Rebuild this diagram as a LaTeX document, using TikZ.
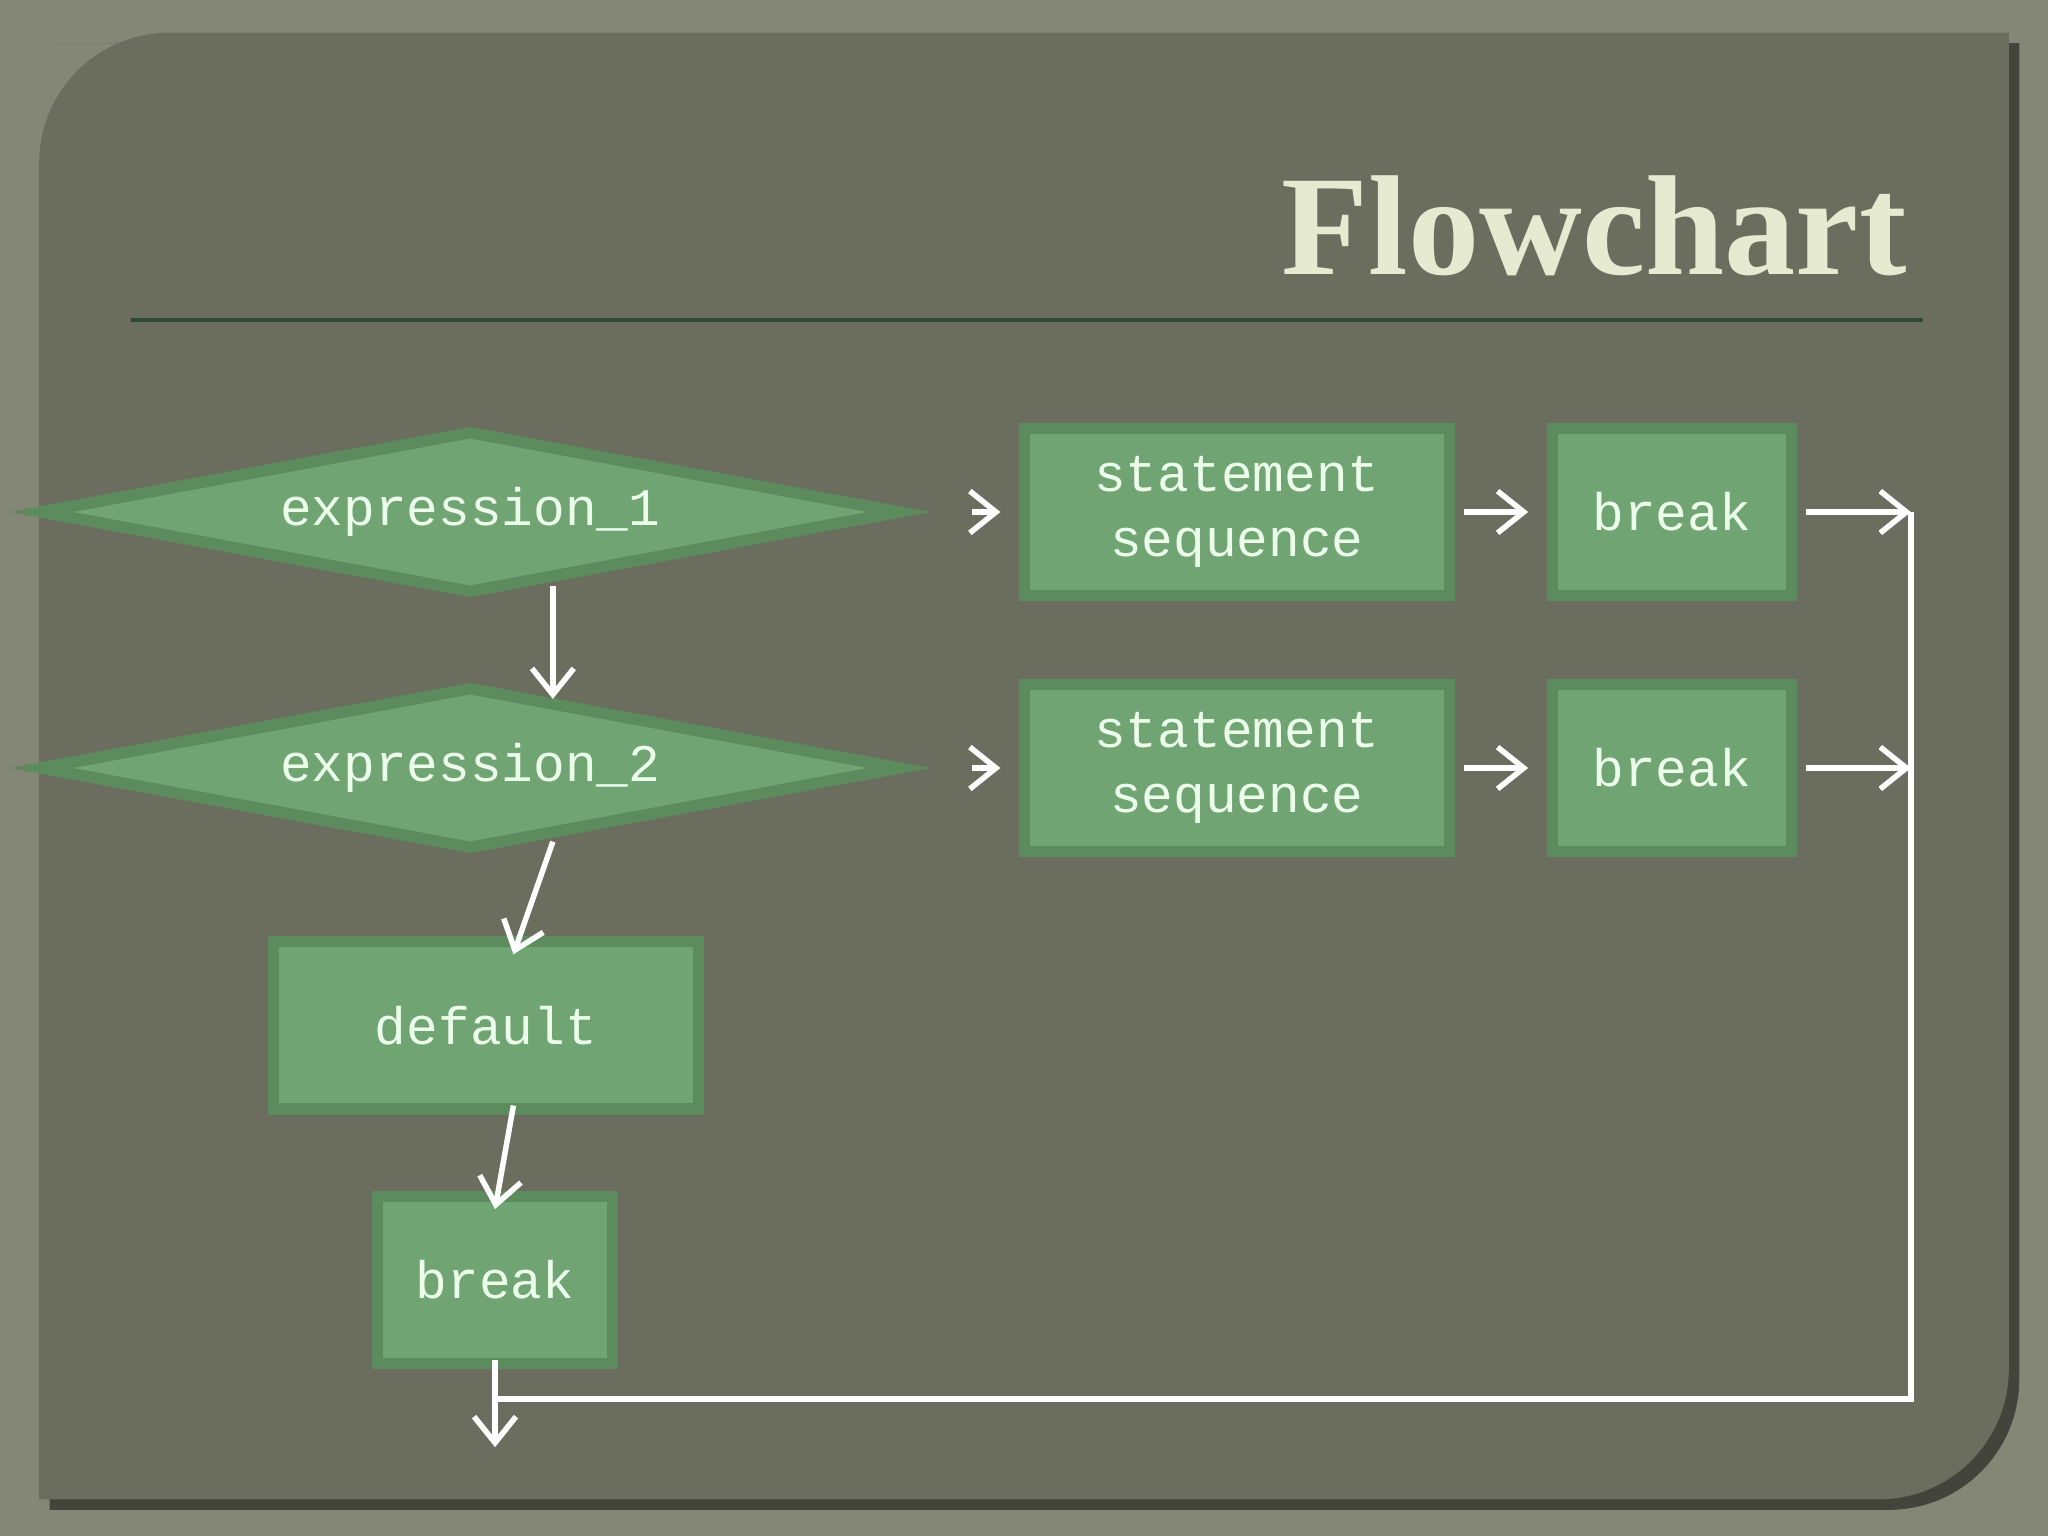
\documentclass[tikz,border=0pt]{standalone}
\usepackage{fontspec}
\setmainfont{Liberation Serif}
\newfontfamily\monofont{Liberation Mono}
\usetikzlibrary{shapes.geometric,arrows.meta}
\definecolor{outerbg}{HTML}{858776}
\definecolor{panelbg}{HTML}{6B6D5E}
\definecolor{boxfill}{HTML}{71A473}
\definecolor{boxline}{HTML}{5C8C5E}
\definecolor{titlecol}{HTML}{E6EAD0}
\definecolor{rulecol}{HTML}{2F4A3A}
\tikzset{
  box/.style={draw=boxline, line width=2.5pt, fill=boxfill, text=white!92!green,
    font=\monofont\fontsize{11.5}{14}\selectfont, align=center, inner sep=0pt},
  cond/.style={box, diamond, aspect=5.28, minimum width=6.6cm, minimum height=1.25cm},
  flow/.style={draw=white, line width=1.2pt, -{Straight Barb[length=2mm,width=3.2mm,line width=1.2pt]}},
  line/.style={draw=white, line width=1.2pt}
}
\begin{document}
\begin{tikzpicture}[x=0.01cm,y=-0.01cm]
\useasboundingbox (0,0) rectangle (1568,1176);
\fill[outerbg] (0,0) rectangle (1568,1176);
% panel
\fill[black!50!outerbg] (38,33) -- (1546,33) -- (1546,1056) to[out=-90,in=0] (1446,1156) -- (38,1156) -- (38,133) to[out=90,in=180] (138,33);
\fill[panelbg] (130,25) -- (1538,25) -- (1538,1048) to[out=-90,in=0] (1438,1148) -- (30,1148) -- (30,125) to[out=90,in=180] (130,25);
\node[titlecol, font=\fontsize{31}{36}\selectfont\bfseries, anchor=base east] (title) at (1472,210) {Flowchart};
\draw[rulecol, line width=1pt] (100,245) -- (1472,245);

\node[cond] (expA) at (360,392) {expression\_1};
\node[cond] (expB) at (360,588) {expression\_2};
\node[box, minimum width=3.25cm, minimum height=1.28cm] (stmtA) at (947,392) {statement\\sequence};
\node[box, minimum width=3.25cm, minimum height=1.28cm] (stmtB) at (947,588) {statement\\sequence};
\node[box, minimum width=1.83cm, minimum height=1.28cm] (brkA) at (1280,392) {break};
\node[box, minimum width=1.83cm, minimum height=1.28cm] (brkB) at (1280,588) {break};
\node[box, minimum width=3.25cm, minimum height=1.28cm] (dflt) at (372,785) {default};
\node[box, minimum width=1.8cm, minimum height=1.28cm] (brkC) at (379,980) {break};

\coordinate (joinA) at (1463,392);
\coordinate (joinB) at (1463,588);
\coordinate (corner) at (1463,1071);
\coordinate (merge) at (379,1071);
\coordinate (exit) at (379,1108);

\draw[flow] ([xshift=14]expA.east) -- ([xshift=-4]stmtA.west);
\draw[flow] ([xshift=14]expB.east) -- ([xshift=-4]stmtB.west);
\draw[flow] ([xshift=2]stmtA.east) -- ([xshift=-4]brkA.west);
\draw[flow] ([xshift=2]stmtB.east) -- ([xshift=-4]brkB.west);
\draw[flow] ([xshift=2]brkA.east) -- (joinA);
\draw[flow] ([xshift=2]brkB.east) -- (joinB);
\draw[flow] ([xshift=18,yshift=3]expA.south) -- ([xshift=18,yshift=-4]expB.north);
\draw[flow] ([xshift=18,yshift=3]expB.south) -- ([xshift=6,yshift=-4]dflt.north);
\draw[flow] ([xshift=6,yshift=2]dflt.south) -- ([yshift=-4]brkC.north);
\draw[line] (joinA) -- (corner) -- (merge);
\draw[flow] ([yshift=2]brkC.south) -- (exit);
\end{tikzpicture}
\end{document}
